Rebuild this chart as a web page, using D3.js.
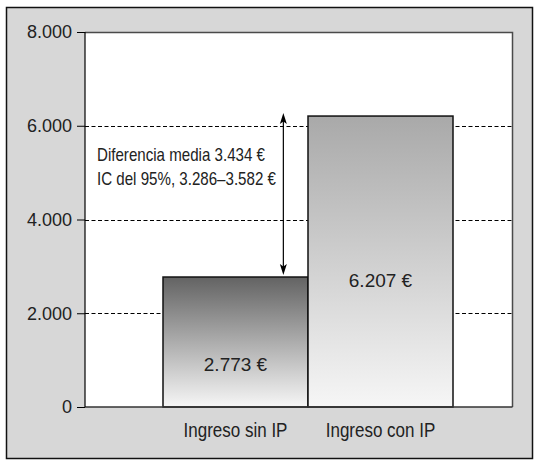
<!DOCTYPE html>
<html>
<head>
<meta charset="utf-8">
<script src="https://cdn.jsdelivr.net/npm/d3@7"></script>
<style>
  html, body { margin: 0; padding: 0; background: #ffffff; }
  svg { display: block; }
  svg text { font-family: "Liberation Sans", Arial, sans-serif; }
</style>
</head>
<body>
<svg id="chart" width="538" height="464"></svg>
<script>
// ---- data ----
const categories = ["Ingreso sin IP", "Ingreso con IP"];
const values = [2773, 6207];
const yTicks = [0, 2000, 4000, 6000, 8000];
const gridTicks = [2000, 4000, 6000];
const annotationLines = ["Diferencia media 3.434 €", "IC del 95%, 3.286–3.582 €"];
const barTopColors = ["#636363", "#a9a9a9"];
const barBottomColor = "#f6f6f6";

const loc = d3.formatLocale({ decimal: ",", thousands: ".", grouping: [3], currency: ["", " €"] });
const fmt = loc.format(",d");

const svg = d3.select("#chart");

const plot = { left: 85, right: 513, top: 32, bottom: 407 };

svg.append("rect").attr("x", 6.5).attr("y", 7.5).attr("width", 526).attr("height", 451)
  .attr("fill", "#d7d7d7").attr("stroke", "#111").attr("stroke-width", 1.5);

svg.append("rect").attr("x", plot.left).attr("y", plot.top)
  .attr("width", plot.right - plot.left).attr("height", plot.bottom - plot.top)
  .attr("fill", "#ffffff");

const y = d3.scaleLinear().domain([0, 8000]).range([plot.bottom, plot.top]);
const x = d3.scaleBand().domain(categories).range([163, 453]).paddingInner(0).paddingOuter(0);

// gradients
const defs = svg.append("defs");
categories.forEach((c, i) => {
  const g = defs.append("linearGradient").attr("id", "grad" + i)
    .attr("x1", 0).attr("y1", 0).attr("x2", 0).attr("y2", 1);
  g.append("stop").attr("offset", "0%").attr("stop-color", barTopColors[i]);
  g.append("stop").attr("offset", "100%").attr("stop-color", barBottomColor);
});

// gridlines
svg.append("g").selectAll("line").data(gridTicks).join("line")
  .attr("x1", plot.left).attr("x2", plot.right)
  .attr("y1", d => Math.round(y(d)) + 0.5).attr("y2", d => Math.round(y(d)) + 0.5)
  .attr("stroke", "#000").attr("stroke-width", 1).attr("stroke-dasharray", "4,2.5");

// plot top/right border
svg.append("path")
  .attr("d", `M${plot.left},${plot.top + 0.5}H${plot.right - 0.5}V${plot.bottom}`)
  .attr("fill", "none").attr("stroke", "#4a4a4a").attr("stroke-width", 1.5);

// bars
svg.append("g").selectAll("rect").data(values).join("rect")
  .attr("x", (d, i) => x(categories[i]))
  .attr("y", d => y(d))
  .attr("width", x.bandwidth())
  .attr("height", d => y(0) - y(d))
  .attr("fill", (d, i) => `url(#grad${i})`)
  .attr("stroke", "#111").attr("stroke-width", 1.5);

// bottom baseline
svg.append("line").attr("x1", plot.left).attr("x2", plot.right - 0.5)
  .attr("y1", plot.bottom).attr("y2", plot.bottom)
  .attr("stroke", "#333").attr("stroke-width", 1.5);

// y axis
const yAxis = d3.axisLeft(y).tickValues(yTicks).tickFormat(fmt).tickSize(8).tickPadding(5);
const ga = svg.append("g").attr("transform", `translate(${plot.left},0)`).call(yAxis);
ga.attr("font-family", null).attr("font-size", null);
ga.select(".domain").attr("stroke", "#000").attr("stroke-width", 1.2).attr("d", `M0,${plot.top}V${plot.bottom}`);
ga.selectAll(".tick line").attr("stroke", "#000");
ga.selectAll(".tick text").attr("font-size", 18).attr("fill", "#222");

// value labels
svg.append("g").selectAll("text").data(values).join("text")
  .attr("x", (d, i) => x(categories[i]) + x.bandwidth() / 2)
  .attr("y", (d, i) => i === 0 ? 371 : 287)
  .attr("text-anchor", "middle").attr("font-size", 19).attr("fill", "#222")
  .text(d => fmt(d) + " €");

// category labels (condensed look)
svg.append("g").selectAll("text").data(categories).join("text")
  .attr("transform", d => `translate(${x(d) + x.bandwidth() / 2},437) scale(0.85,1)`)
  .attr("text-anchor", "middle").attr("font-size", 20).attr("fill", "#222")
  .text(d => d);

// arrow (difference)
const ax = x(categories[0]) + x.bandwidth() * 0.83;
const yLow = y(values[0]) - 2, yHigh = y(values[1]) - 3;
svg.append("line").attr("x1", ax).attr("x2", ax).attr("y1", yHigh + 8).attr("y2", yLow - 8)
  .attr("stroke", "#000").attr("stroke-width", 1.2);
svg.append("path").attr("d", `M${ax},${yHigh}l-3.5,11l3.5,-2.5l3.5,2.5z`).attr("fill", "#000");
svg.append("path").attr("d", `M${ax},${yLow}l-3.5,-11l3.5,2.5l3.5,-2.5z`).attr("fill", "#000");

// annotation (condensed look)
svg.append("g").selectAll("text").data(annotationLines).join("text")
  .attr("transform", (d, i) => `translate(97,${161 + i * 24}) scale(0.84,1)`)
  .attr("font-size", 18).attr("fill", "#222")
  .text(d => d);
</script>
</body>
</html>
